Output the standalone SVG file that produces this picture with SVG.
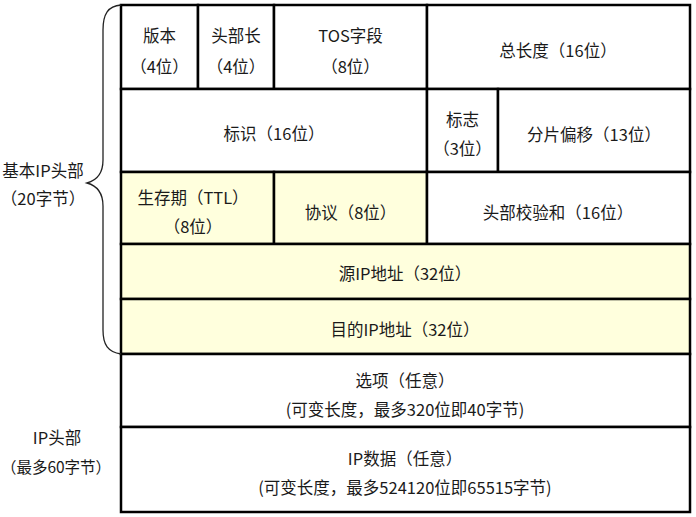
<svg xmlns="http://www.w3.org/2000/svg" width="696" height="517" viewBox="0 0 696 517">
<style>
.c{stroke:#000;stroke-width:2.5;}
.w{fill:#fff;}
.y{fill:#ffffdd;}
text{font-family:"Noto Sans CJK SC","Noto Sans",sans-serif;font-size:16.5px;fill:#1a1a1a;text-anchor:middle;dominant-baseline:central;}
</style>
<rect width="696" height="517" fill="#fff"/>
<g id="version"><rect class="c w" x="121" y="5" width="77" height="84"/><text x="159.5" y="35">版本</text><text x="159.5" y="66">（4位）</text></g>
<g id="ihl"><rect class="c w" x="198" y="5" width="76" height="84"/><text x="236" y="35">头部长</text><text x="236" y="66">（4位）</text></g>
<g id="tos"><rect class="c w" x="274" y="5" width="153" height="84"/><text x="350.5" y="35">TOS字段</text><text x="350.5" y="66">（8位）</text></g>
<g id="total"><rect class="c w" x="427" y="5" width="263" height="84"/><text x="558" y="50">总长度（16位）</text></g>
<g id="ident"><rect class="c w" x="121" y="89" width="306" height="83"/><text x="274" y="133">标识（16位）</text></g>
<g id="flags"><rect class="c w" x="427" y="89" width="71" height="83"/><text x="462.5" y="119">标志</text><text x="462.5" y="148">（3位）</text></g>
<g id="frag"><rect class="c w" x="498" y="89" width="192" height="83"/><text x="594" y="134">分片偏移（13位）</text></g>
<g id="ttl"><rect class="c y" x="121" y="172" width="153" height="72"/><text x="193" y="197">生存期（TTL）</text><text x="193" y="226">（8位）</text></g>
<g id="proto"><rect class="c y" x="274" y="172" width="153" height="72"/><text x="350.5" y="212">协议（8位）</text></g>
<g id="checksum"><rect class="c w" x="427" y="172" width="263" height="72"/><text x="558" y="212">头部校验和（16位）</text></g>
<g id="src"><rect class="c y" x="121" y="244" width="569" height="55"/><text x="405" y="273">源IP地址（32位）</text></g>
<g id="dst"><rect class="c y" x="121" y="299" width="569" height="55"/><text x="405" y="329">目的IP地址（32位）</text></g>
<g id="options"><rect class="c w" x="121" y="354" width="569" height="73"/><text x="405" y="380">选项（任意）</text><text x="405" y="409">(可变长度，最多320位即40字节)</text></g>
<g id="data"><rect class="c w" x="121" y="427" width="569" height="85"/><text x="405" y="458">IP数据（任意）</text><text x="405" y="487">(可变长度，最多524120位即65515字节)</text></g>
<g id="connectors"><path d="M121,5 C108,6 103,14 103,30 L103,160 C103,172 98,180 87,183 C98,186 103,194 103,206 L103,330 C103,345 108,352 121,354" fill="none" stroke="#222" stroke-width="1.3"/></g>
<g id="label-basic"><text x="43" y="170">基本IP头部</text><text x="43" y="198">（20字节）</text></g>
<g id="label-ip"><text x="57" y="437">IP头部</text><text x="56" y="466" style="font-size:15.5px">（最多60字节）</text></g>
</svg>
